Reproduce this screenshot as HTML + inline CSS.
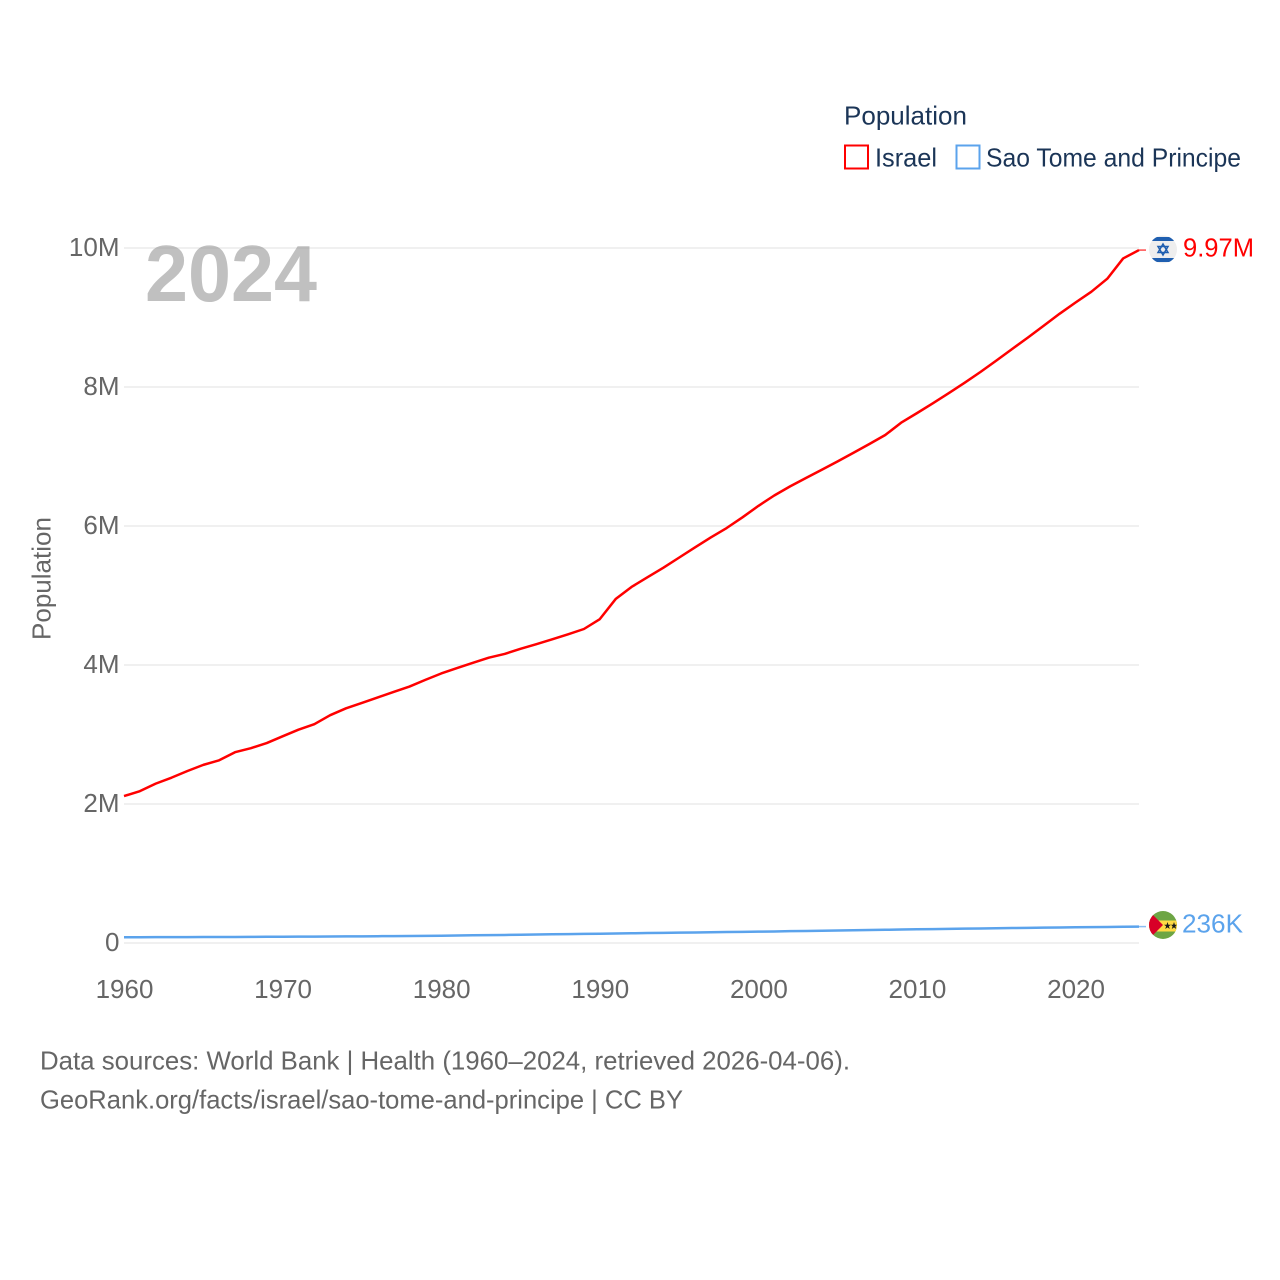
<!DOCTYPE html>
<html lang="en">
<head>
<meta charset="utf-8">
<title>Population: Israel and Sao Tome and Principe</title>
<style>
html,body{margin:0;padding:0;background:#fff;width:1280px;height:1280px;overflow:hidden}
svg{display:block}
text{font-family:"Liberation Sans",sans-serif}
</style>
</head>
<body>
<svg id="chart" xmlns="http://www.w3.org/2000/svg" width="1280" height="1280" viewBox="0 0 1280 1280">
  <rect width="1280" height="1280" fill="#fff"/>
  <g id="grid"></g>
  <text x="145" y="301" font-size="80" font-weight="700" fill="#8c8c8c" fill-opacity="0.55" textLength="172" lengthAdjust="spacingAndGlyphs">2024</text>
  <g id="yticks"></g>
  <g id="xticks"></g>
  <text transform="translate(50.500 640) rotate(-90)" font-size="26" fill="#666" textLength="123" lengthAdjust="spacingAndGlyphs">Population</text>
  <g id="series"></g>

  <text x="844" y="124.500" font-size="26" fill="#1b3557" textLength="123" lengthAdjust="spacingAndGlyphs">Population</text>
  <g>
    <rect x="845" y="145.500" width="23" height="23" fill="#fff" stroke="#ff0000" stroke-width="2"/>
    <text x="875" y="166.500" font-size="26" fill="#1b3557" textLength="62" lengthAdjust="spacingAndGlyphs">Israel</text>
  </g>
  <g>
    <rect x="956.500" y="145.500" width="23" height="23" fill="#fff" stroke="#5ba3ec" stroke-width="2"/>
    <text x="986" y="166.500" font-size="26" fill="#1b3557" textLength="255" lengthAdjust="spacingAndGlyphs">Sao Tome and Principe</text>
  </g>

  <g>
    <clipPath id="clip-il"><circle cx="1163" cy="249.500" r="14"/></clipPath>
    <circle cx="1163" cy="249.500" r="14" fill="#eeeeee"/>
    <g clip-path="url(#clip-il)">
      <rect x="1149" y="237" width="28" height="4" fill="#1f5fb0"/>
      <rect x="1149" y="258" width="28" height="4" fill="#1f5fb0"/>
    </g>
    <polygon points="1163,244 1168,252.500 1158,252.500" fill="none" stroke="#1f5fb0" stroke-width="1.500"/>
    <polygon points="1163,255 1168,246.500 1158,246.500" fill="none" stroke="#1f5fb0" stroke-width="1.500"/>
  </g>
  <text x="1183" y="256.500" font-size="26" fill="#ff0000" textLength="71" lengthAdjust="spacingAndGlyphs">9.97M</text>

  <g>
    <clipPath id="clip-st"><circle cx="1163" cy="925" r="14"/></clipPath>
    <circle cx="1163" cy="925" r="14" fill="#6da544"/>
    <g clip-path="url(#clip-st)">
      <rect x="1149" y="920.500" width="28" height="11" fill="#ffda44"/>
      <polygon points="1149,911 1163,925 1149,939" fill="#d80027"/>
    </g>
    <polygon points="1167.500,922 1168.400,924.700 1171,924.700 1168.900,926.300 1169.700,929 1167.500,927.400 1165.300,929 1166.100,926.300 1164,924.700 1166.600,924.700" fill="#1a1a1a"/>
    <polygon points="1174,922 1174.900,924.700 1177,924.700 1175.400,926.300 1176.200,929 1174,927.400 1171.800,929 1172.600,926.300 1171,924.700 1173.100,924.700" fill="#1a1a1a"/>
  </g>
  <text x="1182" y="932.500" font-size="26" fill="#5ba3ec" textLength="61" lengthAdjust="spacingAndGlyphs">236K</text>

  <text x="40" y="1069.500" font-size="26" fill="#666" textLength="810" lengthAdjust="spacingAndGlyphs">Data sources: World Bank | Health (1960–2024, retrieved 2026-04-06).</text>
  <text x="40" y="1108.500" font-size="26" fill="#666" textLength="643" lengthAdjust="spacingAndGlyphs">GeoRank.org/facts/israel/sao-tome-and-principe | CC BY</text>
</svg>
<script>
const years = [1960,1961,1962,1963,1964,1965,1966,1967,1968,1969,1970,1971,1972,1973,1974,1975,1976,1977,1978,1979,1980,1981,1982,1983,1984,1985,1986,1987,1988,1989,1990,1991,1992,1993,1994,1995,1996,1997,1998,1999,2000,2001,2002,2003,2004,2005,2006,2007,2008,2009,2010,2011,2012,2013,2014,2015,2016,2017,2018,2019,2020,2021,2022,2023,2024];
const israelValues = [2.114,2.185,2.293,2.379,2.475,2.563,2.629,2.745,2.803,2.877,2.974,3.069,3.148,3.278,3.377,3.455,3.533,3.613,3.690,3.786,3.878,3.956,4.031,4.105,4.159,4.233,4.299,4.369,4.442,4.518,4.660,4.949,5.123,5.261,5.399,5.545,5.692,5.836,5.971,6.125,6.289,6.439,6.570,6.690,6.809,6.930,7.054,7.180,7.309,7.486,7.624,7.766,7.911,8.060,8.216,8.380,8.547,8.713,8.883,9.055,9.216,9.371,9.558,9.850,9.970];
const saoTomeValues = [0.082,0.083,0.084,0.084,0.085,0.086,0.086,0.087,0.088,0.089,0.090,0.091,0.092,0.094,0.095,0.096,0.098,0.099,0.101,0.103,0.105,0.108,0.111,0.113,0.116,0.119,0.122,0.125,0.128,0.131,0.134,0.137,0.140,0.143,0.146,0.149,0.152,0.155,0.158,0.160,0.163,0.166,0.170,0.173,0.177,0.180,0.184,0.187,0.190,0.194,0.197,0.200,0.203,0.206,0.209,0.212,0.215,0.218,0.221,0.223,0.226,0.228,0.231,0.233,0.236];
const yTickValues = [0,2,4,6,8,10];
const yTickLabels = ["0","2M","4M","6M","8M","10M"];
const xTickValues = [1960,1970,1980,1990,2000,2010,2020];
const xTickLabels = ["1960","1970","1980","1990","2000","2010","2020"];

const NS = 'http://www.w3.org/2000/svg';
const xScale = function (year) { return 124 + (year - 1960) * (1139 - 124) / 64; };
const yScale = function (value) { return 943 - value * 69.5; };

const gridGroup = document.getElementById('grid');
const yGroup = document.getElementById('yticks');
const xGroup = document.getElementById('xticks');
const seriesGroup = document.getElementById('series');

yTickValues.forEach(function (value, i) {
  const line = document.createElementNS(NS, 'line');
  
  
  line.setAttribute('x1', xScale(1960));
  line.setAttribute('x2', xScale(2024));
  line.setAttribute('y1', yScale(value));
  line.setAttribute('y2', yScale(value));
  line.setAttribute('stroke', '#ececec');
  line.setAttribute('stroke-width', '1.500');
  gridGroup.appendChild(line);

  const label = document.createElementNS(NS, 'text');
  
  
  label.setAttribute('x', 119.500);
  label.setAttribute('y', yScale(value) + 8);
  label.setAttribute('text-anchor', 'end');
  label.setAttribute('font-size', '26');
  label.setAttribute('fill', '#666');
  label.textContent = yTickLabels[i];
  yGroup.appendChild(label);
});

xTickValues.forEach(function (year, i) {
  const label = document.createElementNS(NS, 'text');
  
  
  label.setAttribute('x', xScale(year) + 0.500);
  label.setAttribute('y', 998);
  label.setAttribute('text-anchor', 'middle');
  label.setAttribute('font-size', '26');
  label.setAttribute('fill', '#666');
  label.textContent = xTickLabels[i];
  xGroup.appendChild(label);
});

const linePoints = function (values) {
  return values.map(function (value, i) {
    return xScale(years[i]).toFixed(2) + ',' + yScale(value).toFixed(2);
  }).join(' ');
};

const israelLine = document.createElementNS(NS, 'polyline');


israelLine.setAttribute('points', linePoints(israelValues));
israelLine.setAttribute('fill', 'none');
israelLine.setAttribute('stroke', '#ff0000');
israelLine.setAttribute('stroke-width', '2.500');
israelLine.setAttribute('stroke-linejoin', 'round');
seriesGroup.appendChild(israelLine);

const saoTomeLine = document.createElementNS(NS, 'polyline');


saoTomeLine.setAttribute('points', linePoints(saoTomeValues));
saoTomeLine.setAttribute('fill', 'none');
saoTomeLine.setAttribute('stroke', '#5ba3ec');
saoTomeLine.setAttribute('stroke-width', '2.500');
saoTomeLine.setAttribute('stroke-linejoin', 'round');
seriesGroup.appendChild(saoTomeLine);

const israelConnector = document.createElementNS(NS, 'line');


israelConnector.setAttribute('x1', xScale(2024));
israelConnector.setAttribute('x2', xScale(2024) + 7);
israelConnector.setAttribute('y1', yScale(israelValues[israelValues.length - 1]));
israelConnector.setAttribute('y2', yScale(israelValues[israelValues.length - 1]));
israelConnector.setAttribute('stroke', '#ff0000');
israelConnector.setAttribute('stroke-opacity', '0.7');
israelConnector.setAttribute('stroke-width', '1.500');
seriesGroup.appendChild(israelConnector);

const saoTomeConnector = document.createElementNS(NS, 'line');


saoTomeConnector.setAttribute('x1', xScale(2024));
saoTomeConnector.setAttribute('x2', xScale(2024) + 7);
saoTomeConnector.setAttribute('y1', yScale(saoTomeValues[saoTomeValues.length - 1]));
saoTomeConnector.setAttribute('y2', yScale(saoTomeValues[saoTomeValues.length - 1]));
saoTomeConnector.setAttribute('stroke', '#5ba3ec');
saoTomeConnector.setAttribute('stroke-opacity', '0.7');
saoTomeConnector.setAttribute('stroke-width', '1.500');
seriesGroup.appendChild(saoTomeConnector);
</script>
</body>
</html>
